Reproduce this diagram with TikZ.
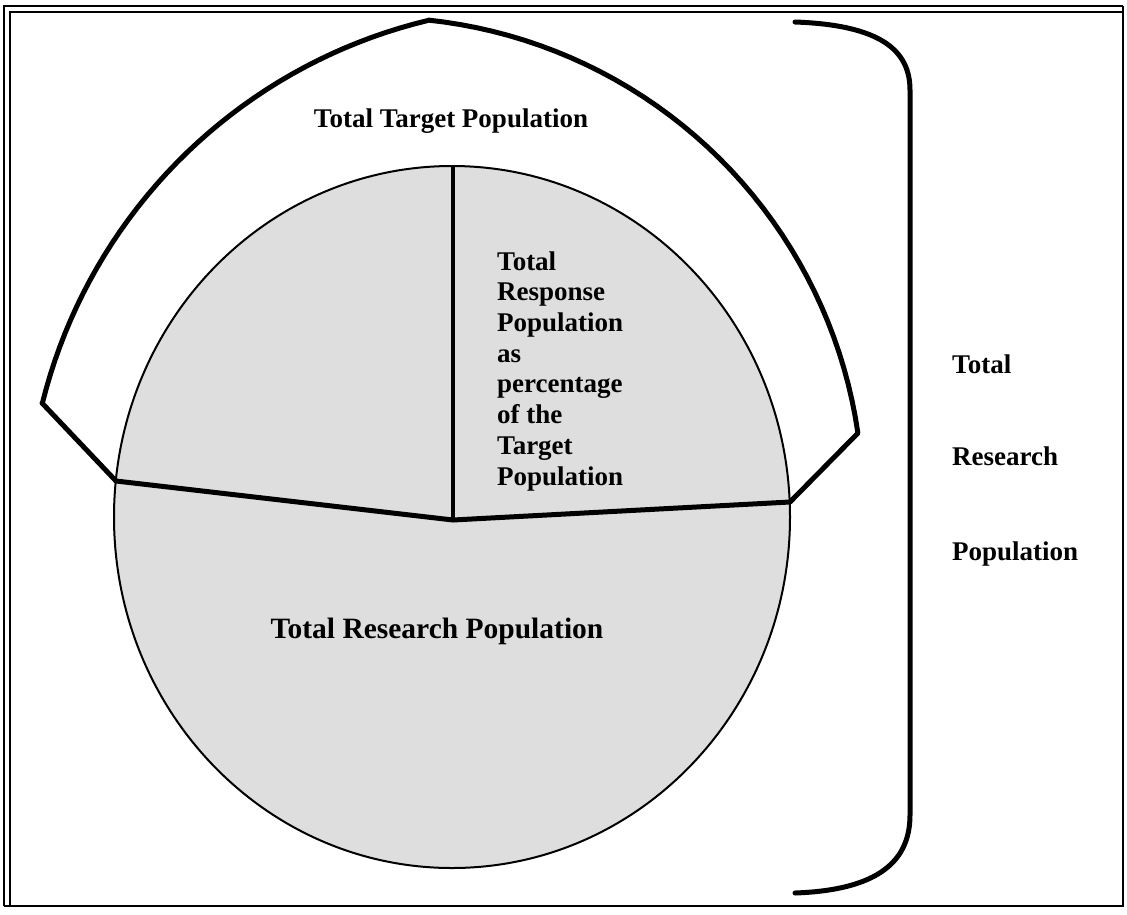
\documentclass[tikz,border=0pt]{standalone}
\usepackage{fontspec}
\setmainfont{Liberation Serif}
\begin{document}
\begin{tikzpicture}[x=1pt,y=-1pt,
  heavy/.style={line width=5pt,line join=round,line cap=round},
  label/.style={font=\fontsize{27}{30.7}\selectfont\bfseries,inner sep=0pt},
  biglabel/.style={font=\fontsize{29.5}{34}\selectfont\bfseries,inner sep=0pt},
  framebox/.style={line width=1.6pt}]
\useasboundingbox (0,0) rectangle (1127,914);

% page frame: doubled on top and left, single on right and bottom
\draw[framebox] (1123,6) -- (4,6) -- (4,906);
\draw[framebox] (1123,12) -- (10,12) -- (10,906);
\draw[framebox] (1123,6) -- (1123,906) -- (4,906);

% shaded circle
\coordinate (ctr) at (452,517);
\filldraw[fill=gray!26,draw=black,line width=2pt] (ctr) ellipse [x radius=338,y radius=351];

% junction points
\coordinate (top) at (453,166);
\coordinate (hub) at (453,520);
\coordinate (lj) at (116,481);
\coordinate (rj) at (790,502);
\coordinate (lt) at (42,403);
\coordinate (rt) at (858,433);

% dividers inside the circle
\draw[heavy] (lj) -- (hub) -- (rj);
\draw[line width=4pt] (top) -- (hub);

% outer target region: two circular arcs meeting at a peak
\draw[heavy] (lj) -- (lt)
  -- plot[domain=193.9:256.5,samples=40] ({550+523*cos(\x)},{529+523*sin(\x)})
  -- plot[domain=276.0:351.7,samples=40] ({377.3+485.7*cos(\x)},{503.1+485.7*sin(\x)})
  -- (rt) -- (rj);

% bracket on the right
\draw[heavy] (795,22) .. controls (880,25) and (910,50) .. (910,90)
  -- (910,815) .. controls (910,860) and (880,890) .. (795,893);

% labels
\node[label,anchor=base] (ttp) at (451,127) {Total Target Population};
\node[label,anchor=base west,align=left] (trp) at (497,485)
  {Total\\Response\\Population\\as\\percentage\\of the\\Target\\Population};
\node[biglabel,anchor=base] (tresp) at (437,638) {Total Research Population};
\node[label,anchor=base west] (r1) at (952,373) {Total};
\node[label,anchor=base west] (r2) at (952,465) {Research};
\node[label,anchor=base west] (r3) at (952,560) {Population};
\end{tikzpicture}
\end{document}
